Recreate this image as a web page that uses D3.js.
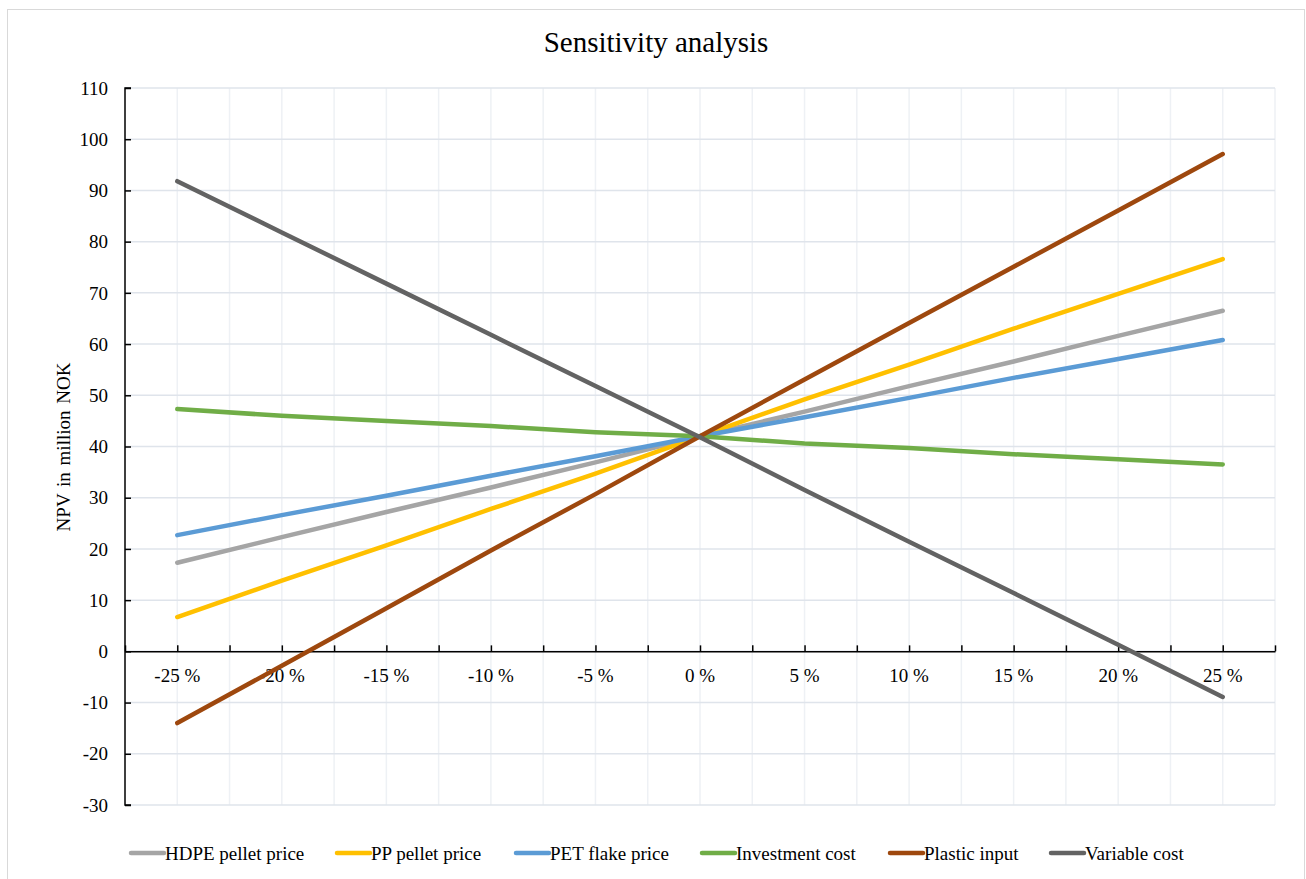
<!DOCTYPE html>
<html>
<head>
<meta charset="utf-8">
<script src="https://cdn.jsdelivr.net/npm/d3@7/dist/d3.min.js"></script>
<style>
  html, body { margin: 0; padding: 0; background: #fff; }
  svg { display: block; }
  text { font-family: 'Liberation Serif', 'DejaVu Serif', serif; }
</style>
</head>
<body>
<svg id="chart" width="1306" height="879" font-family="Liberation Serif, DejaVu Serif, serif"></svg>
<script>
// ---- data ----
const categories = [-25, -20, -15, -10, -5, 0, 5, 10, 15, 20, 25];
const tickLabels = ["-25 %", "-20 %", "-15 %", "-10 %", "-5 %", "0 %", "5 %", "10 %", "15 %", "20 %", "25 %"];
const seriesNames = ["HDPE pellet price", "PP pellet price", "PET flake price", "Investment cost", "Plastic input", "Variable cost"];
const hdpe       = [17.3, 22.3, 27.2, 32.0, 36.9, 42.0, 46.8, 51.8, 56.6, 61.6, 66.5];
const pp         = [6.7, 13.8, 20.7, 27.8, 34.7, 42.0, 49.2, 56.0, 63.0, 69.8, 76.6];
const pet        = [22.7, 26.6, 30.4, 34.3, 38.1, 42.0, 45.7, 49.5, 53.4, 57.1, 60.8];
const investment = [47.3, 46.0, 45.0, 44.0, 42.8, 42.0, 40.6, 39.7, 38.5, 37.5, 36.5];
const plastic    = [-14.0, -2.8, 8.4, 19.7, 30.7, 42.0, 53.1, 64.1, 75.1, 86.1, 97.1];
const variable   = [91.8, 81.8, 71.8, 61.8, 51.8, 41.8, 31.5, 21.4, 11.4, 1.3, -8.9];
const yTicks = [-30, -20, -10, 0, 10, 20, 30, 40, 50, 60, 70, 80, 90, 100, 110];
const colors = ["#A5A5A5", "#FFC000", "#5B9BD5", "#70AD47", "#9E480E", "#636363"];

const seriesValues = [hdpe, pp, pet, investment, plastic, variable];

// ---- layout ----
const svg = d3.select("#chart");
const pLeft = 125, pRight = 1275, pTop = 88, pBottom = 805;
const FONT = "Liberation Serif, DejaVu Serif, serif";

const x = d3.scaleLinear().domain([-27.5, 27.5]).range([pLeft, pRight]);
const y = d3.scaleLinear().domain([-30, 110]).range([pBottom, pTop]);

// chart border
svg.append("rect").attr("x", 7.5).attr("y", 9.5).attr("width", 1297).attr("height", 880)
  .attr("fill", "#fff").attr("stroke", "#d9d9d9").attr("stroke-width", 1);

// title
svg.append("text").attr("x", 656).attr("y", 52).attr("text-anchor", "middle")
  .attr("font-family", FONT).attr("font-size", 29).attr("fill", "#000").text("Sensitivity analysis");

// gridlines
const minorX = d3.range(-25, 27.6, 2.5);
svg.append("g").selectAll("line").data(minorX).join("line")
  .attr("x1", d => x(d)).attr("x2", d => x(d)).attr("y1", pTop).attr("y2", pBottom)
  .attr("stroke", "#eef1f5").attr("stroke-width", 1.5);
svg.append("g").selectAll("line").data(yTicks).join("line")
  .attr("x1", pLeft).attr("x2", pRight).attr("y1", d => y(d)).attr("y2", d => y(d))
  .attr("stroke", "#dfe4eb").attr("stroke-width", 1.5);

// y axis
const yAxis = d3.axisRight(y).tickValues(yTicks).tickSize(6).tickFormat("");
const gy = svg.append("g").attr("transform", `translate(${pLeft},0)`).call(yAxis);
gy.select(".domain").attr("stroke", "#000").attr("stroke-width", 1.5).attr("d", `M6,${pTop}H0V${pBottom}H6`);
gy.selectAll(".tick line").attr("stroke", "#000").attr("stroke-width", 1.5);
svg.append("g").selectAll("text").data(yTicks).join("text")
  .attr("x", 108).attr("y", d => y(d)).attr("dy", "0.35em").attr("text-anchor", "end")
  .attr("font-family", FONT).attr("font-size", 19).attr("fill", "#000").text(d => d);

// x axis at zero
const allTicks = d3.range(-27.5, 27.6, 2.5);
const xAxis = d3.axisTop(x).tickValues(allTicks).tickSize(6).tickFormat("").tickSizeOuter(0);
const gx = svg.append("g").attr("transform", `translate(0,${y(0)})`).call(xAxis);
gx.select(".domain").attr("stroke", "#000").attr("stroke-width", 1.5);
gx.selectAll(".tick line").attr("stroke", "#000").attr("stroke-width", 1.5);
svg.append("g").selectAll("text").data(categories).join("text")
  .attr("x", d => x(d)).attr("y", y(0) + 31).attr("text-anchor", "middle")
  .attr("font-family", FONT).attr("font-size", 19).attr("fill", "#000").text((d, i) => tickLabels[i]);

// y axis title
svg.append("text").attr("transform", `translate(70,447) rotate(-90)`).attr("text-anchor", "middle")
  .attr("font-family", FONT).attr("font-size", 19).attr("fill", "#000").attr("word-spacing", 2).text("NPV in million NOK");

// series
const line = d3.line().x((d, i) => x(categories[i])).y(d => y(d));
svg.append("g").selectAll("path").data(seriesValues).join("path")
  .attr("d", d => line(d)).attr("fill", "none")
  .attr("stroke", (d, i) => colors[i]).attr("stroke-width", 4.5)
  .attr("stroke-linecap", "round").attr("stroke-linejoin", "round");

// legend
const legendX = [131, 337, 516, 702, 890, 1051];
const leg = svg.append("g").selectAll("g").data(seriesNames).join("g")
  .attr("transform", (d, i) => `translate(${legendX[i]},853)`);
leg.append("line").attr("x1", 0).attr("x2", 33).attr("y1", 0).attr("y2", 0)
  .attr("stroke", (d, i) => colors[i]).attr("stroke-width", 4.5).attr("stroke-linecap", "round");
leg.append("text").attr("x", 34).attr("y", 6.5).attr("font-family", FONT).attr("font-size", 19).attr("fill", "#000").text(d => d);
</script>
</body>
</html>
